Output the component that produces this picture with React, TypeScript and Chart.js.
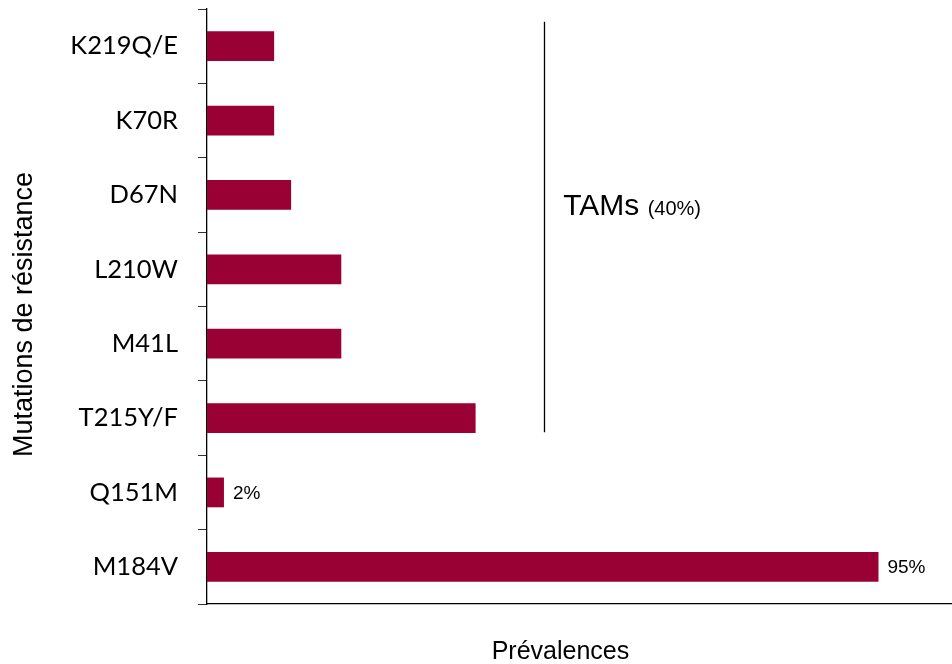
import React, { useEffect, useRef } from "react";
import { Chart, registerables } from "chart.js";

Chart.register(...registerables);

const categories = ["K219Q/E", "K70R", "D67N", "L210W", "M41L", "T215Y/F", "Q151M", "M184V"];
const prevalences = [9.5, 9.5, 11.9, 19, 19, 38, 2.4, 95];
const valueLabels = ["", "", "", "", "", "", "2%", "95%"];
const xMin = 0;
const xMax = 105.4;
const yTitle = "Mutations de résistance";
const xTitle = "Prévalences";
const tamTitle = "TAMs";
const tamShare = "(40%)";
// TAM bracket line: x value, and category-index range it spans
const tamLineX = 47.7;
const tamLineFrom = -0.33;
const tamLineTo = 5.19;
const tamTextX = 50.4;
const tamTextY = 2.27;
const xTitleCenterValue = 50;

const BAR_COLOR = "#990033";

const overlayPlugin = {
  id: "overlay",
  afterDraw(chart: any) {
    const ctx = chart.ctx;
    const xs = chart.scales.x;
    const ys = chart.scales.y;
    ctx.save();

    // value labels
    const meta = chart.getDatasetMeta(0);
    ctx.fillStyle = "#000";
    ctx.font = "19px Arial, 'Liberation Sans', sans-serif";
    ctx.textAlign = "left";
    ctx.textBaseline = "middle";
    meta.data.forEach((bar: any, i: number) => {
      const t = valueLabels[i];
      if (t) ctx.fillText(t, bar.x + 9, bar.y + 1);
    });

    // TAM line
    const lx = Math.round(xs.getPixelForValue(tamLineX)) + 0.5;
    ctx.strokeStyle = "#000";
    ctx.lineWidth = 1.3;
    ctx.beginPath();
    ctx.moveTo(lx, ys.getPixelForValue(tamLineFrom));
    ctx.lineTo(lx, ys.getPixelForValue(tamLineTo));
    ctx.stroke();

    // TAM text
    const tx = xs.getPixelForValue(tamTextX);
    const ty = ys.getPixelForValue(tamTextY);
    ctx.textBaseline = "alphabetic";
    ctx.font = "30px Arial, 'Liberation Sans', sans-serif";
    ctx.fillText(tamTitle, tx, ty);
    const w = ctx.measureText(tamTitle + " ").width;
    ctx.font = "20px Arial, 'Liberation Sans', sans-serif";
    ctx.fillText(tamShare, tx + w, ty);

    // x title
    ctx.font = "25px Arial, 'Liberation Sans', sans-serif";
    ctx.textAlign = "center";
    ctx.fillText(xTitle, xs.getPixelForValue(xTitleCenterValue), 659);

    // y title
    ctx.font = "27px Arial, 'Liberation Sans', sans-serif";
    ctx.translate(32, (ys.top + ys.bottom) / 2 + 8);
    ctx.rotate(-Math.PI / 2);
    ctx.textAlign = "center";
    ctx.fillText(yTitle, 0, 0);

    ctx.restore();
  },
};

export default function App() {
  const ref = useRef<HTMLCanvasElement | null>(null);

  useEffect(() => {
    if (!ref.current) return;
    const chart = new Chart(ref.current, {
      type: "bar",
      data: {
        labels: categories,
        datasets: [
          {
            data: prevalences,
            backgroundColor: BAR_COLOR,
            borderWidth: 0,
            barPercentage: 0.4,
            categoryPercentage: 1,
          },
        ],
      },
      options: {
        indexAxis: "y",
        animation: false,
        responsive: false,
        maintainAspectRatio: false,
        layout: { padding: { top: 9, right: 0, left: 0, bottom: 0 } },
        plugins: {
          legend: { display: false },
          tooltip: { enabled: false },
          title: { display: false },
        },
        scales: {
          x: {
            type: "linear",
            min: xMin,
            max: xMax,
            grid: { display: false, drawTicks: false },
            border: { display: true, color: "#000", width: 1.3 },
            ticks: { display: false },
            afterFit(scale: any) {
              scale.height = 60;
              scale.paddingLeft = 0;
              scale.paddingRight = 0;
            },
          },
          y: {
            type: "category",
            offset: true,
            grid: {
              display: true,
              offset: true,
              drawOnChartArea: false,
              drawTicks: true,
              tickLength: 9,
              color: "#333",
              lineWidth: 1,
            },
            border: { display: true, color: "#000", width: 1.3 },
            ticks: {
              color: "#000",
              padding: 20,
              font: { family: "Lato, 'Noto Sans', sans-serif", size: 25.5 },
            },
            afterFit(scale: any) {
              scale.width = 207;
              scale.paddingTop = 0;
              scale.paddingBottom = 0;
            },
          },
        },
      },
      plugins: [overlayPlugin],
    } as any);
    return () => chart.destroy();
  }, []);

  return (
    <div style={{ position: "fixed", left: 0, top: 0, width: 952, height: 664, background: "#fff" }}>
      <canvas ref={ref} width={952} height={664} style={{ display: "block", width: 952, height: 664 }} />
    </div>
  );
}
